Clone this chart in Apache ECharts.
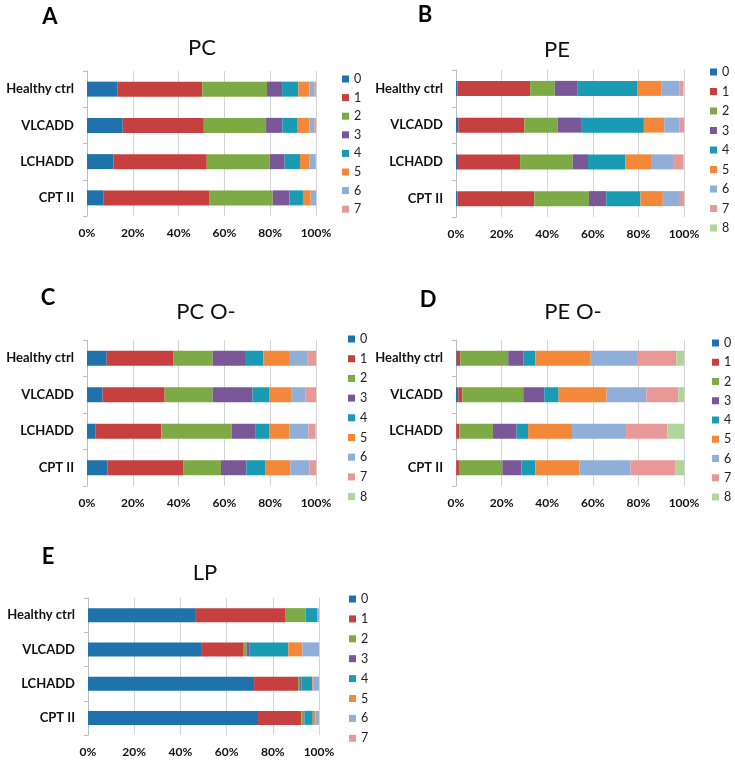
<!DOCTYPE html>
<html><head><meta charset="utf-8">
<script src="https://cdn.jsdelivr.net/npm/echarts@6/dist/echarts.min.js"></script>
<style>html,body{margin:0;padding:0;background:#fff}#c{width:735px;height:760px}</style>
</head><body><div id="c"></div>
<script>
const categories = ['Healthy ctrl', 'VLCADD', 'LCHADD', 'CPT II'];
const classes8 = ['0','1','2','3','4','5','6','7'];
const classes9 = ['0','1','2','3','4','5','6','7','8'];
const xTicks = [0, 20, 40, 60, 80, 100];
const classColors = ['#1F72AB','#C6403F','#7DAA45','#7A5797','#1A9BB4','#F4883A','#8FAFD9','#E89896','#B1D59A'];

// PC (panel A), values per category, index = class
const pcHealthy = [13.4, 36.9, 28.3, 6.6, 7.1, 4.8, 2.3, 0.6];
const pcVLCADD  = [15.6, 35.4, 27.2, 7.1, 6.7, 5.1, 2.2, 0.7];
const pcLCHADD  = [11.6, 40.7, 27.5, 6.5, 6.7, 4.2, 2.7, 0.1];
const pcCPT2    = [7.3, 46.0, 27.8, 7.3, 5.9, 3.4, 2.3, 0];

// PE (panel B)
const peHealthy = [0.6, 31.9, 10.8, 10.1, 26.0, 10.6, 8.1, 1.6, 0.3];
const peVLCADD  = [1.0, 29.0, 14.6, 10.6, 27.2, 8.9, 6.8, 1.9, 0];
const peLCHADD  = [0.9, 27.2, 23.1, 6.7, 16.4, 11.6, 9.3, 4.5, 0.3];
const peCPT2    = [0.6, 33.7, 24.0, 7.6, 15.0, 9.8, 7.1, 2.2, 0];

// PC O- (panel C)
const pcoHealthy = [8.6, 29.0, 17.3, 14.1, 8.0, 11.2, 8.2, 3.6, 0];
const pcoVLCADD  = [6.8, 27.1, 21.0, 17.4, 7.2, 9.9, 6.1, 4.5, 0];
const pcoLCHADD  = [3.8, 28.7, 30.7, 10.5, 5.8, 9.0, 8.2, 3.0, 0.3];
const pcoCPT2    = [9.0, 33.2, 16.3, 11.1, 8.4, 10.8, 8.4, 2.8, 0];

// PE O- (panel D)
const peoHealthy = [0.3, 1.6, 21.0, 6.6, 5.3, 24.3, 20.3, 17.2, 3.4];
const peoVLCADD  = [1.0, 1.8, 26.7, 9.2, 6.3, 21.1, 17.4, 14.0, 2.5];
const peoLCHADD  = [0.1, 1.4, 14.7, 10.4, 5.0, 19.3, 23.7, 18.1, 7.3];
const peoCPT2    = [0.1, 1.2, 19.0, 8.4, 6.1, 19.3, 22.4, 19.6, 3.9];

// LP (panel E)
const lpHealthy = [46.7, 38.6, 8.9, 0, 5.1, 0, 0.7, 0];
const lpVLCADD  = [49.3, 17.8, 1.6, 1.3, 16.7, 6.1, 7.2, 0];
const lpLCHADD  = [71.9, 19.0, 0.9, 0.6, 4.7, 0.6, 2.3, 0];
const lpCPT2    = [73.6, 18.8, 0.8, 0.5, 3.6, 1.1, 1.6, 0];

const panels = [
  {letter:'A', title:'PC', rows:[pcHealthy,pcVLCADD,pcLCHADD,pcCPT2], classes:classes8,
   grid:{left:87,top:71,width:229,height:145}, letterPos:[50,17], titlePos:[202,48],
   legend:{left:342,top:72,gap:4.6}, barW:15},
  {letter:'B', title:'PE', rows:[peHealthy,peVLCADD,peLCHADD,peCPT2], classes:classes9,
   grid:{left:456,top:70,width:228,height:147}, letterPos:[425,15], titlePos:[557,50],
   legend:{left:710,top:65,gap:5.5}, barW:15},
  {letter:'C', title:'PC O-', rows:[pcoHealthy,pcoVLCADD,pcoLCHADD,pcoCPT2], classes:classes9,
   grid:{left:87,top:340,width:229,height:146}, letterPos:[48,298], titlePos:[206,312],
   legend:{left:348,top:332,gap:5.7}, barW:15},
  {letter:'D', title:'PE O-', rows:[peoHealthy,peoVLCADD,peoLCHADD,peoCPT2], classes:classes9,
   grid:{left:456,top:340,width:228,height:146}, letterPos:[428,300], titlePos:[573,312],
   legend:{left:712,top:336,gap:5.25}, barW:15},
  {letter:'E', title:'LP', rows:[lpHealthy,lpVLCADD,lpLCHADD,lpCPT2], classes:classes8,
   grid:{left:88,top:598,width:231,height:137}, letterPos:[48,557], titlePos:[205,573],
   legend:{left:349,top:592,gap:5.9}, barW:14}
];

const FONT = 'Lato, "Open Sans", sans-serif';
const grids = [], xAxes = [], yAxes = [], series = [], legends = [], graphics = [];
panels.forEach((p, pi) => {
  grids.push(p.grid);
  xAxes.push({type:'value', gridIndex:pi, min:xTicks[0], max:xTicks[xTicks.length-1], interval:xTicks[1]-xTicks[0],
    axisLine:{show:false}, axisTick:{show:false},
    splitLine:{show:true, lineStyle:{color:'#D4D4D4', width:1}},
    axisLabel:{formatter:'{value}%', fontFamily:FONT, fontWeight:'bold', fontSize:12, color:'#111', margin:11}});
  yAxes.push({type:'category', gridIndex:pi, data:categories, inverse:true,
    axisLine:{show:true, lineStyle:{color:'#BDBDBD'}},
    axisTick:{show:true, length:4, lineStyle:{color:'#BDBDBD'}},
    axisLabel:{fontFamily:FONT, fontWeight:'bold', fontSize:13, color:'#111', margin:13}});
  p.classes.forEach((cls, ci) => {
    series.push({type:'bar', name:cls, xAxisIndex:pi, yAxisIndex:pi, stack:'s'+pi,
      barWidth:p.barW, itemStyle:{color:classColors[ci]},
      data:p.rows.map(r => r[ci])});
  });
  legends.push({orient:'vertical', left:p.legend.left, top:p.legend.top, itemGap:p.legend.gap,
    itemWidth:7, itemHeight:7, icon:'rect', padding:0, data:p.classes,
    textStyle:{fontFamily:FONT, fontSize:12.5, color:'#222', lineHeight:14}});
  graphics.push({type:'text', x:p.letterPos[0], y:p.letterPos[1],
    style:{text:p.letter, font:'bold 22px '+FONT, fill:'#000', textAlign:'center', textVerticalAlign:'middle'}});
  graphics.push({type:'text', x:p.titlePos[0], y:p.titlePos[1],
    style:{text:p.title, font:'22px '+FONT, fill:'#111', textAlign:'center', textVerticalAlign:'middle'}});
});

const chart = echarts.init(document.getElementById('c'), null, {renderer:'canvas'});
chart.setOption({animation:false, backgroundColor:'#fff', grid:grids, xAxis:xAxes, yAxis:yAxes,
  series:series, legend:legends, graphic:graphics});
</script>
</body></html>
